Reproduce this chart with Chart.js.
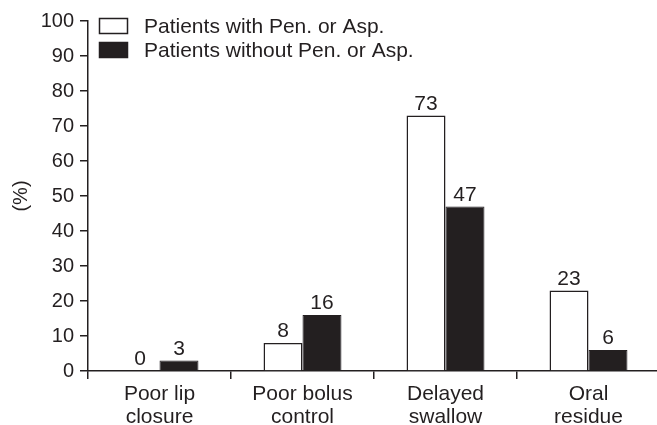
<!DOCTYPE html>
<html>
<head>
<meta charset="utf-8">
<script src="https://cdn.jsdelivr.net/npm/chart.js@4"></script>
<style>
  html, body { margin: 0; padding: 0; background: #fff; overflow: hidden; }
  #wrap { width: 660px; height: 425px; position: relative; }
</style>
</head>
<body>
<div id="wrap"><canvas id="c"></canvas></div>
<script>
const categories = [["Poor lip", "closure"], ["Poor bolus", "control"], ["Delayed", "swallow"], ["Oral", "residue"]];
const withPenAsp = [0, 8, 73, 23];
const withoutPenAsp = [3, 16, 47, 6];
const seriesNames = ["Patients with Pen. or Asp.", "Patients without Pen. or Asp."];
const yTicks = [0, 10, 20, 30, 40, 50, 60, 70, 80, 90, 100];

const INK = '#231f20';
const FONT = "'Liberation Sans', Arial, sans-serif";

const valueLabels = {
  id: 'valueLabels',
  afterDatasetsDraw(chart) {
    const ctx = chart.ctx;
    ctx.save();
    ctx.font = '21px ' + FONT;
    ctx.fillStyle = INK;
    ctx.textAlign = 'center';
    ctx.textBaseline = 'alphabetic';
    chart.data.datasets.forEach((ds, i) => {
      const meta = chart.getDatasetMeta(i);
      meta.data.forEach((el, j) => {
        ctx.fillText(String(ds.data[j]), el.x, el.y - 6);
      });
    });
    ctx.restore();
  }
};

const boxLegend = {
  id: 'boxLegend',
  afterDraw(chart) {
    const ctx = chart.ctx;
    const a = chart.chartArea;
    ctx.save();
    ctx.font = '21px ' + FONT;
    ctx.textBaseline = 'middle';
    ctx.textAlign = 'left';
    chart.data.datasets.forEach((ds, i) => {
      const bx = a.left + 11.5, by = a.top - 2.5 + i * 24, bw = 28, bh = 15;
      ctx.fillStyle = ds.backgroundColor;
      ctx.fillRect(bx, by, bw, bh);
      ctx.strokeStyle = INK;
      ctx.lineWidth = 1.5;
      ctx.strokeRect(bx, by, bw, bh);
      ctx.fillStyle = INK;
      ctx.fillText(ds.label, a.left + 56, by + bh / 2 + 1);
    });
    ctx.restore();
  }
};

new Chart(document.getElementById('c'), {
  type: 'bar',
  data: {
    labels: categories,
    datasets: [
      { label: seriesNames[0], data: withPenAsp, backgroundColor: '#ffffff', borderColor: INK, borderWidth: 1.5, borderSkipped: 'bottom' },
      { label: seriesNames[1], data: withoutPenAsp, backgroundColor: INK, borderColor: INK, borderWidth: 1, borderSkipped: 'bottom' }
    ]
  },
  options: {
    responsive: true,
    maintainAspectRatio: false,
    animation: false,
    devicePixelRatio: 1,
    layout: { padding: { top: 21, right: 0, bottom: 0, left: 0 } },
    datasets: { bar: { categoryPercentage: 0.545, barPercentage: 1 } },
    plugins: { legend: { display: false }, tooltip: { enabled: false } },
    scales: {
      x: {
        grid: { display: true, drawOnChartArea: false, drawTicks: true, tickLength: 8, color: INK, lineWidth: 1.5, offset: true },
        border: { display: true, color: INK, width: 1.5 },
        ticks: { color: INK, font: { family: FONT, size: 21, lineHeight: 1.1 }, padding: 4, maxRotation: 0, autoSkip: false },
        afterFit(s) { s.height = 54; }
      },
      y: {
        min: 0, max: 100,
        afterBuildTicks(s) { s.ticks = yTicks.map(v => ({ value: v })); },
        grid: { display: true, drawOnChartArea: false, drawTicks: true, tickLength: 8, color: INK, lineWidth: 1.5 },
        border: { display: true, color: INK, width: 1.5 },
        ticks: { color: INK, font: { family: FONT, size: 20 }, padding: 6 },
        title: { display: true, text: '(%)', color: INK, font: { family: FONT, size: 20 }, padding: { top: 9, bottom: 0 } },
        afterFit(s) { s.width = 88; }
      }
    }
  },
  plugins: [valueLabels, boxLegend]
});
</script>
</body>
</html>
